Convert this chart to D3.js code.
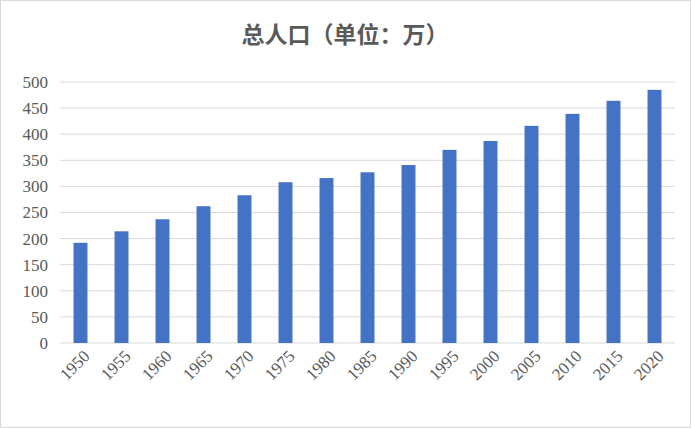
<!DOCTYPE html>
<html><head><meta charset="utf-8">
<script src="https://cdn.jsdelivr.net/npm/d3@7"></script>
<style>body{margin:0;background:#fff}</style>
</head><body>
<svg id="chart" width="691" height="428"></svg>
<script>
const years = ['1950','1955','1960','1965','1970','1975','1980','1985','1990','1995','2000','2005','2010','2015','2020'];
const population = [192, 214, 237, 262, 283, 308, 316, 327, 341, 370, 387, 416, 439, 464, 485];
const yTicks = [0, 50, 100, 150, 200, 250, 300, 350, 400, 450, 500];

const svg = d3.select('#chart');
const margin = { top: 82, right: 16, bottom: 85, left: 60 };
const w = 691 - margin.left - margin.right;
const h = 428 - margin.top - margin.bottom;

svg.append('rect').attr('x', 0.5).attr('y', 0.5).attr('width', 690).attr('height', 427)
    .attr('fill', '#fff').attr('stroke', '#d9d9d9');

svg.append('text').attr('x', 345).attr('y', 43).attr('text-anchor', 'middle')
    .attr('font-family', '"Noto Sans CJK SC", sans-serif').attr('font-weight', 'bold')
    .attr('font-size', 23).attr('fill', '#595959').text('总人口（单位：万）');

const g = svg.append('g').attr('transform', `translate(${margin.left},${margin.top})`);

const x = d3.scaleBand().domain(years).range([0, w]).paddingInner(0.66).paddingOuter(0.33);
const y = d3.scaleLinear().domain([0, 500]).range([h, 0]);

g.selectAll('.grid').data(yTicks).join('line')
    .attr('x1', 0).attr('x2', w)
    .attr('y1', d => y(d)).attr('y2', d => y(d))
    .attr('stroke', '#d9d9d9');

g.selectAll('.ylab').data(yTicks).join('text')
    .attr('x', -12).attr('y', d => y(d)).attr('dy', '0.35em').attr('text-anchor', 'end')
    .attr('font-family', '"Liberation Serif", serif').attr('font-size', 17).attr('fill', '#595959')
    .text(d => d);

g.selectAll('.bar').data(population).join('rect')
    .attr('x', (d, i) => x(years[i])).attr('width', x.bandwidth())
    .attr('y', d => y(d)).attr('height', d => h - y(d))
    .attr('fill', '#4472c4');

g.selectAll('.xlab').data(years).join('text')
    .attr('transform', d => `translate(${x(d) + x.bandwidth() / 2 + 6},${h + 10}) rotate(-45)`)
    .attr('text-anchor', 'end').attr('dy', '0.35em')
    .attr('font-family', '"Liberation Serif", serif').attr('font-size', 17).attr('fill', '#595959')
    .text(d => d);
</script>
</body></html>
